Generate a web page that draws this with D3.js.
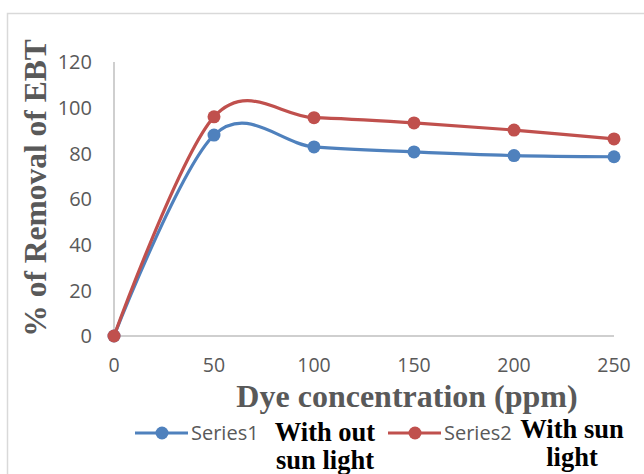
<!DOCTYPE html>
<html><head><meta charset="utf-8">
<script src="https://cdn.jsdelivr.net/npm/d3@7"></script>
<style>body{margin:0;background:#fff}svg{display:block}</style>
</head><body>
<script>
const xValues = [0, 50, 100, 150, 200, 250];
const series1 = [0, 88, 82.8, 80.6, 79, 78.5];
const series2 = [0, 96, 95.6, 93.3, 90.2, 86.3];
const yTicks = [0, 20, 40, 60, 80, 100, 120];
const xTicks = [0, 50, 100, 150, 200, 250];
const seriesNames = ["Series1", "Series2"];
const seriesNotes = [["With out", "sun light"], ["With sun", "light"]];
const colors = ["#4F81BD", "#C0504D"];

const W = 644, H = 474;
const svg = d3.select("body").append("svg").attr("width", W).attr("height", H);

svg.append("path").attr("d", `M7.5,${H}V13.5H${W}`).attr("fill","none").attr("stroke","#d9d9d9").attr("stroke-width",1.5);

const x = d3.scaleLinear().domain([0, 250]).range([114, 614]);
const y = d3.scaleLinear().domain([0, 120]).range([336, 62]);

svg.append("line").attr("x1", x(0)).attr("x2", x(0)).attr("y1", y(120)).attr("y2", y(0)).attr("stroke","#bfbfbf").attr("stroke-width",1.5);
svg.append("line").attr("x1", x(0)).attr("x2", x(250)).attr("y1", y(0)).attr("y2", y(0)).attr("stroke","#bfbfbf").attr("stroke-width",1.5);

const tickFont = "'Open Sans', 'Noto Sans', sans-serif";
const serif = "'Liberation Serif', 'Times New Roman', serif";
svg.append("g").selectAll("text").data(yTicks).join("text")
  .attr("x", 92).attr("y", d => y(d)).attr("dy", "0.36em")
  .attr("text-anchor","end").attr("font-family", tickFont).attr("font-size", 20).attr("fill","#595959")
  .text(d => d);
svg.append("g").selectAll("text").data(xTicks).join("text")
  .attr("x", d => x(d)).attr("y", 365).attr("dy", "0.36em")
  .attr("text-anchor","middle").attr("font-family", tickFont).attr("font-size", 19.5).attr("fill","#595959")
  .text(d => d);

svg.append("text").attr("x", 407).attr("y", 407).attr("text-anchor","middle")
  .attr("font-family", serif).attr("font-weight","bold")
  .attr("font-size", 32).attr("fill","#595959").text("Dye concentration (ppm)");
svg.append("text").attr("transform","translate(46,188) rotate(-90)").attr("text-anchor","middle")
  .attr("font-family", serif).attr("font-weight","bold")
  .attr("font-size", 31.5).attr("fill","#595959").text("% of Removal of EBT");

const line = d3.line().x((d,i) => x(xValues[i])).y(d => y(d)).curve(d3.curveCardinal.tension(0));
[series1, series2].forEach((s, k) => {
  svg.append("path").attr("d", line(s)).attr("fill","none").attr("stroke", colors[k]).attr("stroke-width", 3.2);
  svg.append("g").selectAll("circle").data(s).join("circle")
    .attr("cx", (d,i) => x(xValues[i])).attr("cy", d => y(d)).attr("r", 6.5).attr("fill", colors[k]);
});

const legX = [135, 388];
const noteX = [325, 572];
const noteY = [[441, 469], [438, 466]];
seriesNames.forEach((n, k) => {
  const g = svg.append("g");
  g.append("line").attr("x1", legX[k]).attr("x2", legX[k] + 53).attr("y1", 433).attr("y2", 433).attr("stroke", colors[k]).attr("stroke-width", 3.2);
  g.append("circle").attr("cx", legX[k] + 27).attr("cy", 433).attr("r", 6.5).attr("fill", colors[k]);
  g.append("text").attr("x", legX[k] + 56).attr("y", 433).attr("dy","0.36em")
    .attr("font-family", tickFont).attr("font-size", 20).attr("fill","#595959").text(n);
  seriesNotes[k].forEach((t, j) => {
    g.append("text").attr("x", noteX[k]).attr("y", noteY[k][j]).attr("text-anchor","middle")
      .attr("font-family", serif).attr("font-weight","bold")
      .attr("font-size", 26.5).attr("fill","#000").text(t);
  });
});
</script>
</body></html>
